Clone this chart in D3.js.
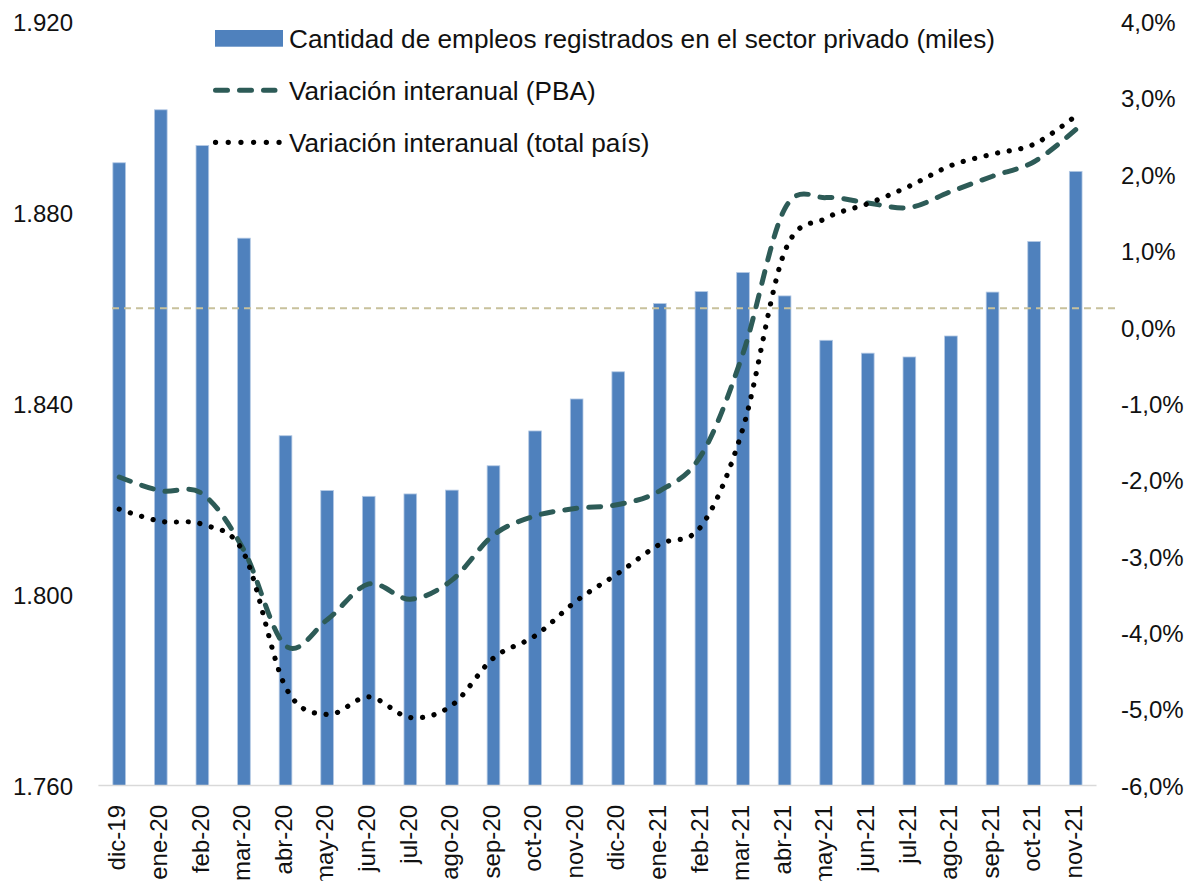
<!DOCTYPE html>
<html>
<head>
<meta charset="utf-8">
<script src="https://cdn.jsdelivr.net/npm/d3@7"></script>
<style>
  html, body { margin: 0; padding: 0; background: #ffffff; }
  svg text { font-family: "Liberation Sans", Arial, sans-serif; fill: #111111; }
</style>
</head>
<body>
<svg id="chart" width="1196" height="881"></svg>
<script>
const categories = ["dic-19","ene-20","feb-20","mar-20","abr-20","may-20","jun-20","jul-20","ago-20","sep-20","oct-20","nov-20","dic-20","ene-21","feb-21","mar-21","abr-21","may-21","jun-21","jul-21","ago-21","sep-21","oct-21","nov-21"];
const empleos = [1890.5, 1901.6, 1894.1, 1874.7, 1833.3, 1821.8, 1820.6, 1821.1, 1821.9, 1827.0, 1834.3, 1841.0, 1846.7, 1861.0, 1863.5, 1867.5, 1862.6, 1853.3, 1850.6, 1849.8, 1854.2, 1863.4, 1874.0, 1888.7];
const varPBA = [-1.96, -2.14, -2.18, -2.92, -4.17, -3.83, -3.36, -3.56, -3.31, -2.72, -2.47, -2.37, -2.32, -2.14, -1.67, -0.34, 1.55, 1.70, 1.63, 1.57, 1.78, 1.98, 2.17, 2.59];
const varPais = [-2.38, -2.54, -2.58, -2.96, -4.71, -5.07, -4.84, -5.11, -4.95, -4.33, -4.04, -3.58, -3.22, -2.84, -2.60, -1.32, 0.99, 1.43, 1.62, 1.85, 2.12, 2.27, 2.40, 2.77];
const leftTicks = [1760, 1800, 1840, 1880, 1920];
const rightTicks = [-6, -5, -4, -3, -2, -1, 0, 1, 2, 3, 4];
const referenceLevel = [1860];
const legendLabels = ["Cantidad de empleos registrados en el sector privado (miles)", "Variación interanual (PBA)", "Variación interanual (total país)"];

const svg = d3.select("#chart");
const plot = {left: 98.4, right: 1096.5, top: 22, bottom: 785.5};

const x = d3.scaleBand().domain(categories).range([plot.left, plot.right]).paddingInner(0).paddingOuter(0);
const cx = c => x(c) + x.bandwidth() / 2;
const yL = d3.scaleLinear().domain([1760, 1920]).range([plot.bottom, plot.top]);
const yR = d3.scaleLinear().domain([-6, 4]).range([plot.bottom, plot.top]);

const fmtL = d => d3.format(",")(d).replace(",", ".");
const fmtR = d => d3.format(".1f")(d).replace("\u2212", "-").replace(".", ",") + "%";

// Bars
const barW = x.bandwidth() * 0.305;
svg.append("g").selectAll("rect").data(categories).join("rect")
  .attr("x", (c) => cx(c) - barW / 2)
  .attr("y", (c, i) => yL(empleos[i]))
  .attr("width", barW)
  .attr("height", (c, i) => yL(1760) - yL(empleos[i]))
  .attr("fill", "#4f81bd")
  .attr("stroke", "#b4c9e4")
  .attr("stroke-width", 0.8);

// Reference dashed line
svg.append("g").selectAll("line").data(referenceLevel).join("line")
  .attr("x1", 112).attr("x2", 1116)
  .attr("y1", d => yL(d)).attr("y2", d => yL(d))
  .attr("stroke", "#c8c19c").attr("stroke-width", 2)
  .attr("stroke-dasharray", "7,5");

// X axis line
svg.append("line")
  .attr("x1", plot.left).attr("x2", plot.right)
  .attr("y1", plot.bottom).attr("y2", plot.bottom)
  .attr("stroke", "#d9d9d9").attr("stroke-width", 1.5);

// Lines
const lineGen = arr => d3.line()
  .x((d, i) => cx(categories[i]))
  .y(d => yR(d))
  .curve(d3.curveCardinal.tension(0))(arr);

svg.append("path").attr("d", lineGen(varPBA))
  .attr("fill", "none").attr("stroke", "#2d5b57").attr("stroke-width", 5)
  .attr("stroke-linecap", "round").attr("stroke-dasharray", "12,12");

svg.append("path").attr("d", lineGen(varPais))
  .attr("fill", "none").attr("stroke", "#000000").attr("stroke-width", 5.2)
  .attr("stroke-linecap", "round").attr("stroke-dasharray", "0.1,11.7");

// Left axis labels
const axL = d3.axisLeft(yL).tickValues(leftTicks).tickFormat(fmtL).tickSize(0).tickPadding(0);
const gL = svg.append("g").attr("transform", "translate(73,0)").call(axL);
gL.select(".domain").remove();
gL.selectAll("text").attr("font-size", 24).attr("fill", "#111").attr("dy", "0.36em")
  .style("font-family", '"Liberation Sans", Arial, sans-serif');

// Right axis labels
const axR = d3.axisRight(yR).tickValues(rightTicks).tickFormat(fmtR).tickSize(0).tickPadding(0);
const gR = svg.append("g").attr("transform", "translate(1121,0)").call(axR);
gR.select(".domain").remove();
gR.selectAll("text").attr("font-size", 24).attr("fill", "#111").attr("dy", "0.36em")
  .style("font-family", '"Liberation Sans", Arial, sans-serif');

// X labels rotated
svg.append("g").selectAll("text").data(categories).join("text")
  .attr("transform", c => `translate(${cx(c)},805) rotate(-90)`)
  .attr("text-anchor", "end")
  .attr("dy", "0.26em")
  .attr("font-size", 24)
  .text(c => c);

// Legend
const lg = svg.append("g");
const rows = [38.3, 90.3, 142.3];
lg.append("rect").attr("x", 215).attr("y", rows[0] - 8.3).attr("width", 68).attr("height", 16.7).attr("fill", "#4f81bd");
lg.append("line").attr("x1", 215.5).attr("x2", 275).attr("y1", rows[1]).attr("y2", rows[1])
  .attr("stroke", "#2d5b57").attr("stroke-width", 5).attr("stroke-linecap", "round").attr("stroke-dasharray", "12,12");
lg.append("line").attr("x1", 215.5).attr("x2", 280).attr("y1", rows[2]).attr("y2", rows[2])
  .attr("stroke", "#000").attr("stroke-width", 5.2).attr("stroke-linecap", "round").attr("stroke-dasharray", "0.1,12.6");
lg.selectAll("text.leg").data(legendLabels).join("text").attr("class", "leg")
  .attr("x", 289).attr("y", (d, i) => rows[i] + 10)
  .attr("font-size", 26.2)
  .text(d => d);
</script>
</body>
</html>
